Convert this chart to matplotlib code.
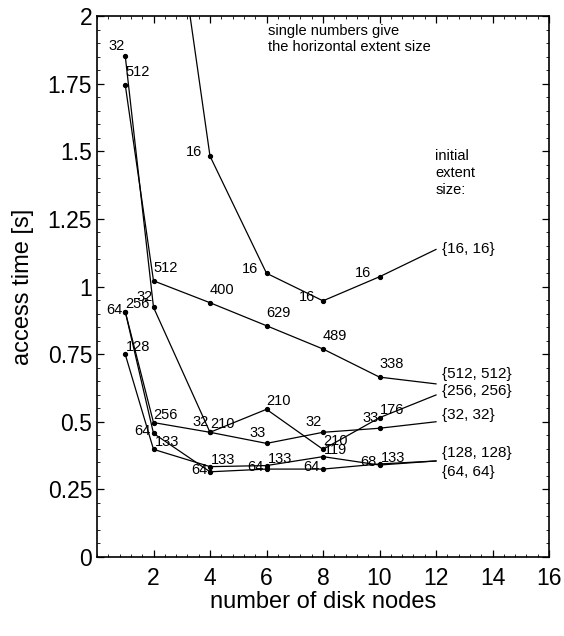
import numpy as np
import matplotlib
matplotlib.use('Agg')
import matplotlib.pyplot as plt
from matplotlib.ticker import MultipleLocator

plt.rcParams['font.family'] = ['Liberation Sans', 'DejaVu Sans']

# number of disk nodes
nodes = [1, 2, 4, 6, 8, 10]

# access times [s] per initial extent size, with the horizontal extent size at each point
t_16 = [None, 2.95, 1.482, 1.049, 0.947, 1.036]
h_16 = ['', '', '16', '16', '16', '16']
t_512 = [1.745, 1.021, 0.940, 0.855, 0.769, 0.665]
h_512 = ['512', '512', '400', '629', '489', '338']
t_256 = [0.907, 0.497, 0.461, 0.546, 0.398, 0.515]
h_256 = ['256', '256', '210', '210', '210', '176']
t_32 = [1.852, 0.923, 0.461, 0.420, 0.461, 0.476]
h_32 = ['32', '32', '32', '33', '32', '33']
t_128 = [0.749, 0.398, 0.334, 0.338, 0.371, 0.340]
h_128 = ['128', '133', '133', '133', '119', '133']
t_64 = [0.907, 0.457, 0.315, 0.325, 0.325, 0.344]
h_64 = ['64', '64', '64', '64', '64', '68']

# where the leader line to each series name ends (x = 12)
label_x = 12
label_end = {'16': 1.137, '512': 0.640, '256': 0.599, '32': 0.500, '128': 0.355, '64': 0.355}
label_names = {'16': '{16, 16}', '512': '{512, 512}', '256': '{256, 256}',
               '32': '{32, 32}', '128': '{128, 128}', '64': '{64, 64}'}
label_text_y = {'16': 1.139, '512': 0.677, '256': 0.615, '32': 0.525, '128': 0.384, '64': 0.315}

series = [('16', t_16, h_16, (-8, 4), 'right'),
          ('512', t_512, h_512, (0, 13), 'left'),
          ('256', t_256, h_256, (0, 8), 'left'),
          ('32', t_32, h_32, (-1, 10), 'right'),
          ('128', t_128, h_128, (1, 7), 'left'),
          ('64', t_64, h_64, (-3, 2), 'right')]

fig = plt.figure(figsize=(5.64, 6.36), dpi=100)
ax = fig.add_axes([97/564, 1-557/636, 452/564, 541/636])

for key, t, h, off, ha in series:
    xs = [x for x, v in zip(nodes, t) if v is not None]
    ys = [v for v in t if v is not None]
    ax.plot(xs, ys, color='black', lw=0.9, marker='o', ms=2.8, clip_on=True)
    ax.plot([xs[-1], label_x], [ys[-1], label_end[key]], color='black', lw=0.9)
    for x, v, s in zip(xs, ys, [hh for hh, v in zip(h, t) if v is not None]):
        if s == '' or v > 2:
            continue
        ax.annotate(s, (x, v), xytext=off, textcoords='offset pixels',
                    ha=ha, va='center', fontsize=10.5)
    ax.text(label_x + 0.2, label_text_y[key], label_names[key], fontsize=11,
            ha='left', va='center')

ax.text(6.04, 1.915, 'single numbers give\nthe horizontal extent size',
        fontsize=10.5, ha='left', va='center', linespacing=1.25)
ax.text(11.98, 1.42, 'initial\nextent\nsize:', fontsize=10.5, ha='left',
        va='center', linespacing=1.25)

ax.set_xlim(0, 16)
ax.set_ylim(0, 2)
ax.set_xticks([2, 4, 6, 8, 10, 12, 14, 16])
ax.set_yticks([0, 0.25, 0.5, 0.75, 1, 1.25, 1.5, 1.75, 2])
ax.set_yticklabels(['0', '0.25', '0.5', '0.75', '1', '1.25', '1.5', '1.75', '2'])
ax.xaxis.set_minor_locator(MultipleLocator(0.4))
ax.yaxis.set_minor_locator(MultipleLocator(0.05))
ax.tick_params(which='both', direction='in', top=True, right=True, labelsize=16.5)
ax.tick_params(which='major', length=5, width=0.9)
ax.tick_params(which='minor', length=2.5, width=0.6)
ax.tick_params(axis='x', pad=7)
for sp in ax.spines.values():
    sp.set_linewidth(1.2)

ax.set_xlabel('number of disk nodes', fontsize=17, labelpad=1)
ax.set_ylabel('access time [s]', fontsize=17, labelpad=10)

fig.savefig('out.png', dpi=100)
